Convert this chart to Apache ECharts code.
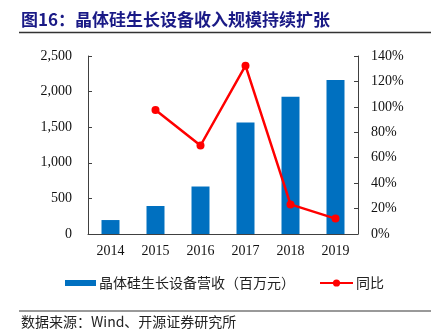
<!DOCTYPE html>
<html>
<head>
<meta charset="utf-8">
<script src="https://cdn.jsdelivr.net/npm/echarts@6/dist/echarts.min.js"></script>
<style>
html,body{margin:0;padding:0;background:#fff;}
#c{width:431px;height:332px;}
</style>
</head>
<body>
<div id="c"></div>
<script>
const categories = ['2014', '2015', '2016', '2017', '2018', '2019'];
const revenue = [196, 393, 667, 1565, 1929, 2163];
const growth = ['-', 97.6, 69.6, 132.4, 23.3, 12.1];
const leftTicks = [0, 500, 1000, 1500, 2000, 2500];
const rightTicks = [0, 20, 40, 60, 80, 100, 120, 140];
const titleText = '图16：晶体硅生长设备收入规模持续扩张';
const sourceText = '数据来源：Wind、开源证券研究所';
const barName = '晶体硅生长设备营收（百万元）';
const lineName = '同比';

const serif = 'Liberation Serif, "Times New Roman", "Noto Serif CJK SC", serif';
const cjk = '"Noto Sans CJK SC", sans-serif';
const axisColor = '#404040';

const chart = echarts.init(document.getElementById('c'), null, {renderer: 'canvas'});
chart.setOption({
  animation: false,
  backgroundColor: '#fff',
  graphic: [
    {type: 'text', left: 21, top: 11, style: {text: titleText, fontSize: 17, fontWeight: 'bold', fill: '#1a1a86', fontFamily: cjk}},
    {type: 'line', shape: {x1: 19, y1: 32.5, x2: 431, y2: 32.5}, style: {stroke: '#333', lineWidth: 1.5}},
    {type: 'line', shape: {x1: 19, y1: 311, x2: 431, y2: 311}, style: {stroke: '#999', lineWidth: 2}},
    {type: 'text', left: 21, top: 315, style: {text: sourceText, fontSize: 14, fill: '#222', fontFamily: cjk}}
  ],
  legend: [
    {
      data: [barName], left: 65, top: 276, padding: 0, itemWidth: 31, itemHeight: 6, itemGap: 10,
      icon: 'rect',
      textStyle: {fontSize: 14, color: '#222', fontFamily: cjk, padding: [0, 0, 0, -2]}
    },
    {
      data: [lineName], left: 319, top: 276, padding: 0, itemWidth: 33, itemHeight: 9,
      textStyle: {fontSize: 14, color: '#222', fontFamily: cjk, padding: [0, 0, 0, -2]}
    }
  ],
  grid: {left: 88, right: 73, top: 56, bottom: 98, containLabel: false},
  xAxis: {
    type: 'category', data: categories,
    axisLine: {lineStyle: {color: axisColor, width: 1}},
    axisTick: {inside: true, length: 4, lineStyle: {color: axisColor}},
    axisLabel: {fontFamily: serif, fontSize: 14, color: '#111', margin: 10}
  },
  yAxis: [
    {
      type: 'value', min: 0, max: 2500, interval: 500,
      splitLine: {show: false},
      axisLine: {show: true, lineStyle: {color: axisColor, width: 1}},
      axisTick: {show: true, inside: true, length: 4, lineStyle: {color: axisColor}},
      axisLabel: {fontFamily: serif, fontSize: 14, color: '#111', margin: 16,
        formatter: v => v.toLocaleString('en-US')}
    },
    {
      type: 'value', min: 0, max: 140, interval: 20, position: 'right',
      splitLine: {show: false},
      axisLine: {show: true, lineStyle: {color: axisColor, width: 1}},
      axisTick: {show: true, inside: true, length: 4, lineStyle: {color: axisColor}},
      axisLabel: {fontFamily: serif, fontSize: 14, color: '#111', margin: 13, formatter: '{value}%'}
    }
  ],
  series: [
    {
      name: barName, type: 'bar', data: revenue, barWidth: 18,
      itemStyle: {color: '#0070C0'}
    },
    {
      name: lineName, type: 'line', yAxisIndex: 1, data: growth,
      symbol: 'circle', symbolSize: 8, connectNulls: false,
      lineStyle: {color: '#FF0000', width: 2.5},
      itemStyle: {color: '#FF0000'}
    }
  ]
});
</script>
</body>
</html>
